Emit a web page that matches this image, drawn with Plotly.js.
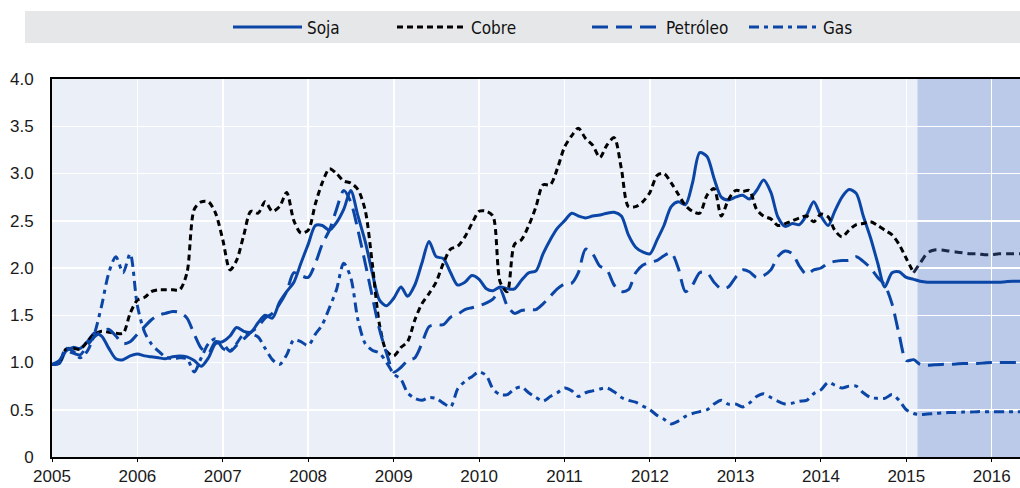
<!DOCTYPE html>
<html>
<head>
<meta charset="utf-8">
<script src="https://cdn.plot.ly/plotly-3.0.1.min.js"></script>
<style>
  html, body { margin: 0; padding: 0; background: #ffffff; }
  #chart { width: 1020px; height: 488px; }
</style>
</head>
<body>
<div id="chart"></div>
<script>
// Monthly observations, January 2005 to May 2016 (index 2005 = 1)
const startYear = 2005;
const seriesNames = ['Soja', 'Cobre', 'Petróleo', 'Gas'];
const yearTicks = ['2005','2006','2007','2008','2009','2010','2011','2012','2013','2014','2015','2016'];
const yTickVals = [0, 0.5, 1, 1.5, 2, 2.5, 3, 3.5, 4];
const yTickText = ['0', '0.5', '1.0', '1.5', '2.0', '2.5', '3.0', '3.5', '4.0'];
const projectionStart = '2015-02-18';
const projectionEnd = '2016-05-01';

const soja = [
  0.98, 0.99, 1.12, 1.16, 1.15, 1.22, 1.31, 1.28, 1.15, 1.04, 1.03, 1.07,
  1.09, 1.07, 1.06, 1.05, 1.04, 1.06, 1.07, 1.06, 1.02, 0.96, 1.05, 1.20,
  1.22, 1.28, 1.37, 1.33, 1.32, 1.42, 1.50, 1.47, 1.64, 1.75, 1.85, 2.05,
  2.25, 2.45, 2.45, 2.40, 2.48, 2.62, 2.82, 2.55, 2.28, 1.95, 1.66, 1.60,
  1.68, 1.80, 1.70, 1.82, 2.05, 2.28, 2.12, 2.10, 1.95, 1.82, 1.85, 1.92,
  1.88, 1.78, 1.76, 1.80, 1.78, 1.78, 1.87, 1.95, 1.97, 2.15, 2.30, 2.42,
  2.50, 2.58, 2.55, 2.53, 2.55, 2.56, 2.58, 2.59, 2.55, 2.35, 2.22, 2.17,
  2.15, 2.30, 2.45, 2.65, 2.70, 2.67, 2.90, 3.22, 3.18, 2.95, 2.75, 2.72,
  2.75, 2.77, 2.73, 2.82, 2.93, 2.80, 2.54, 2.44, 2.47, 2.46, 2.56, 2.70,
  2.55, 2.45, 2.60, 2.75, 2.83, 2.79, 2.55, 2.32, 2.05, 1.80, 1.95, 1.96,
  1.90, 1.88, 1.86, 1.85, 1.85, 1.85, 1.85, 1.85, 1.85, 1.85, 1.85, 1.85,
  1.85, 1.85, 1.855, 1.86, 1.86
];
const cobre = [
  0.98, 1.00, 1.14, 1.15, 1.14, 1.22, 1.30, 1.33, 1.32, 1.31, 1.31, 1.52,
  1.66, 1.69, 1.75, 1.77, 1.77, 1.77, 1.77, 1.95, 2.62, 2.70, 2.70, 2.58,
  2.30, 1.98, 2.08, 2.35, 2.60, 2.58, 2.70, 2.60, 2.65, 2.80, 2.50, 2.37,
  2.40, 2.68, 2.90, 3.05, 3.00, 2.92, 2.90, 2.83, 2.61, 2.05, 1.40, 1.12,
  1.07, 1.16, 1.22, 1.45, 1.62, 1.73, 1.85, 2.05, 2.20, 2.23, 2.33, 2.47,
  2.60, 2.60, 2.55, 1.85, 1.75, 2.25, 2.30, 2.45, 2.65, 2.88, 2.88, 3.05,
  3.28, 3.40, 3.48, 3.37, 3.30, 3.17, 3.30, 3.38, 3.05, 2.65, 2.65, 2.70,
  2.80, 2.98, 3.00, 2.90, 2.78, 2.66, 2.60, 2.58, 2.77, 2.84, 2.55, 2.72,
  2.82, 2.81, 2.82, 2.62, 2.55, 2.52, 2.45, 2.47, 2.50, 2.53, 2.55, 2.49,
  2.57, 2.54, 2.40, 2.33, 2.40, 2.46, 2.47, 2.49, 2.45, 2.40, 2.35, 2.25,
  2.10, 1.95, 2.05, 2.16, 2.19, 2.19, 2.18, 2.17, 2.16, 2.15, 2.15, 2.14,
  2.14, 2.15, 2.15, 2.15, 2.15
];
const petroleo = [
  0.98, 1.02, 1.12, 1.10, 1.08, 1.18, 1.27, 1.33, 1.35, 1.28, 1.20, 1.22,
  1.30, 1.38, 1.45, 1.50, 1.52, 1.54, 1.53, 1.47, 1.30, 1.15, 1.10, 1.22,
  1.20, 1.12, 1.18, 1.25, 1.32, 1.38, 1.47, 1.52, 1.62, 1.75, 1.95, 1.92,
  1.90, 2.05, 2.25, 2.40, 2.62, 2.82, 2.70, 2.40, 2.05, 1.70, 1.35, 1.10,
  0.90, 0.95, 1.02, 1.05, 1.20, 1.38, 1.40, 1.40, 1.48, 1.51, 1.56, 1.58,
  1.60, 1.63, 1.67, 1.77, 1.60, 1.52, 1.55, 1.56, 1.56, 1.62, 1.70, 1.78,
  1.83, 1.84, 1.95, 2.20, 2.15, 2.02, 1.98, 1.82, 1.75, 1.77, 1.95, 2.03,
  2.06, 2.08, 2.13, 2.16, 2.00, 1.75, 1.82, 1.95, 1.95, 1.85, 1.78, 1.80,
  1.90, 1.98, 1.96, 1.90, 1.92, 1.98, 2.12, 2.18, 2.15, 2.02, 1.93, 1.98,
  2.00, 2.05, 2.07, 2.08, 2.08, 2.12, 2.07, 2.00, 1.90, 1.82, 1.62, 1.30,
  1.02, 1.03, 0.98, 0.97, 0.975, 0.98, 0.98, 0.985, 0.99, 0.99, 0.99, 0.995,
  1.00, 1.00, 1.00, 1.00, 1.00
];
const gas = [
  0.98, 1.00, 1.15, 1.12, 1.05, 1.12, 1.30, 1.60, 1.95, 2.12, 1.95, 2.15,
  1.60, 1.32, 1.20, 1.12, 1.06, 1.04, 1.05, 1.04, 0.90, 1.05, 1.20, 1.25,
  1.15, 1.12, 1.20, 1.30, 1.30, 1.27, 1.15, 1.03, 0.98, 1.08, 1.24, 1.22,
  1.18, 1.30, 1.40, 1.58, 1.77, 2.05, 1.90, 1.45, 1.20, 1.13, 1.10, 1.00,
  0.88, 0.82, 0.68, 0.62, 0.60, 0.63, 0.62, 0.57, 0.53, 0.72, 0.80, 0.85,
  0.90, 0.86, 0.72, 0.66, 0.66, 0.72, 0.74, 0.68, 0.63, 0.59, 0.64, 0.68,
  0.73, 0.70, 0.64, 0.68, 0.70, 0.72, 0.73, 0.69, 0.63, 0.60, 0.58, 0.54,
  0.50, 0.44, 0.40, 0.35, 0.38, 0.43, 0.46, 0.48, 0.50, 0.56, 0.60, 0.56,
  0.56, 0.53, 0.57, 0.64, 0.67, 0.63, 0.59, 0.56, 0.57, 0.59, 0.60, 0.67,
  0.71, 0.79, 0.76, 0.73, 0.75, 0.75, 0.68, 0.63, 0.62, 0.62, 0.66, 0.60,
  0.50, 0.46, 0.45, 0.455, 0.46, 0.465, 0.47, 0.47, 0.475, 0.475, 0.48, 0.48,
  0.48, 0.48, 0.48, 0.48, 0.48
];

const months = soja.map((_, i) => {
  const y = startYear + Math.floor(i / 12);
  const m = (i % 12) + 1;
  return y + '-' + String(m).padStart(2, '0') + '-01';
});
const yearDates = yearTicks.map(y => y + '-01-01');

const BLUE = '#0b46a6';
const legendFontFamily = '"DejaVu Sans Condensed", "Liberation Sans Narrow", sans-serif';
const tickFont = { family: '"Liberation Sans", Arial, sans-serif', size: 17, color: '#1a1a1a' };
const projIdx = 121;

const traces = [
  { x: months, y: soja, name: seriesNames[0], legend: 'legend',
    mode: 'lines', line: { color: BLUE, width: 3, shape: 'spline', smoothing: 0.8 } },
  { x: months.slice(0, projIdx + 1), y: cobre.slice(0, projIdx + 1), name: seriesNames[1], legend: 'legend2',
    mode: 'lines', line: { color: '#000000', width: 3, dash: '6px,4px', shape: 'spline', smoothing: 0.8 } },
  { x: months.slice(projIdx), y: cobre.slice(projIdx), name: seriesNames[1], showlegend: false,
    mode: 'lines', line: { color: '#1b2849', width: 3, dash: '8px,5px', shape: 'spline', smoothing: 0.8 } },
  { x: months, y: petroleo, name: seriesNames[2], legend: 'legend3',
    mode: 'lines', line: { color: BLUE, width: 3, dash: '16px,8px', shape: 'spline', smoothing: 0.8 } },
  { x: months, y: gas, name: seriesNames[3], legend: 'legend4',
    mode: 'lines', line: { color: BLUE, width: 3, dash: '10px,5px,4px,5px', shape: 'spline', smoothing: 0.8 } }
];

const legBase = {
  orientation: 'h', yanchor: 'middle', y: (457 - 27.5) / 378, xanchor: 'left',
  bgcolor: 'rgba(0,0,0,0)', borderwidth: 0, itemwidth: 69,
  font: { family: legendFontFamily, size: 17, color: '#111' }, itemclick: false
};
function px2paper(px) { return (px - 52) / 968; }

const layout = {
  width: 1020, height: 488,
  margin: { l: 52, r: 0, t: 79, b: 31, pad: 0 },
  paper_bgcolor: '#ffffff',
  plot_bgcolor: '#eaeff8',
  showlegend: true,
  legend:  Object.assign({}, legBase, { x: px2paper(228) }),
  legend2: Object.assign({}, legBase, { x: px2paper(392) }),
  legend3: Object.assign({}, legBase, { x: px2paper(587) }),
  legend4: Object.assign({}, legBase, { x: px2paper(744) }),
  xaxis: {
    type: 'date',
    range: [months[0], projectionEnd],
    tickvals: yearDates, ticktext: yearTicks,
    tickfont: tickFont,
    showgrid: true, gridcolor: '#ffffff', gridwidth: 1.5,
    showline: true, linecolor: '#000000', linewidth: 2, mirror: true,
    ticks: 'outside', ticklen: 3, tickcolor: '#000000', tickwidth: 1,
    ticklabelstandoff: 0,
    zeroline: false, fixedrange: true
  },
  yaxis: {
    range: [0, 4],
    tickvals: yTickVals, ticktext: yTickText,
    tickfont: tickFont,
    showgrid: true, gridcolor: '#ffffff', gridwidth: 1.5,
    showline: true, linecolor: '#000000', linewidth: 2, mirror: false,
    ticks: '', ticklabelstandoff: 13,
    zeroline: false, fixedrange: true
  },
  shapes: [
    { type: 'rect', xref: 'paper', yref: 'paper',
      x0: px2paper(25), x1: 1, y0: (457 - 43) / 378, y1: (457 - 11) / 378,
      fillcolor: '#e6e7e9', line: { width: 0 }, layer: 'below' },
    { type: 'rect', xref: 'x', yref: 'paper',
      x0: projectionStart, x1: projectionEnd, y0: 0, y1: 1,
      fillcolor: 'rgba(172,191,227,0.78)', line: { width: 0 }, layer: 'between' }
  ]
};

Plotly.newPlot('chart', traces, layout, { staticPlot: true, displayModeBar: false });
</script>
</body>
</html>
